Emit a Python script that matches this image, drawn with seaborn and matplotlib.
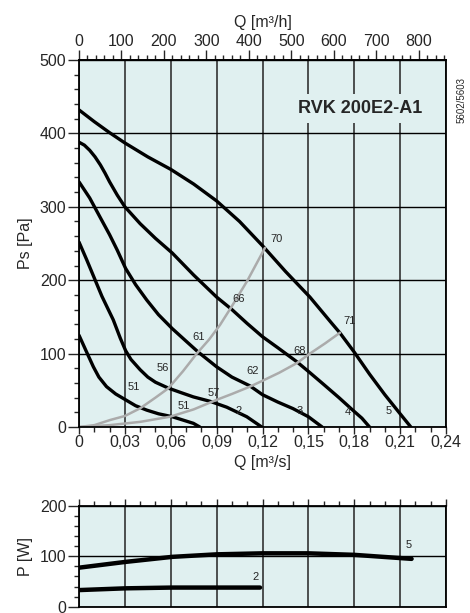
import numpy as np
import pandas as pd
import matplotlib
matplotlib.use('Agg')
import matplotlib.pyplot as plt
import seaborn as sns
from matplotlib.ticker import MultipleLocator, FuncFormatter

# duong ap suat Ps [Pa] theo Q [m3/s], doc tu hinh
q1 = [0, 0.005, 0.0094, 0.013, 0.018, 0.024, 0.0305, 0.037, 0.0443, 0.052, 0.061, 0.0748, 0.079]
p1 = [125, 102, 82, 68, 55, 45, 37, 29, 23, 18, 14, 5, 0]

q2 = [0, 0.005, 0.01, 0.015, 0.0224, 0.027, 0.0305, 0.034, 0.04, 0.045, 0.05, 0.0584, 0.0665, 0.0748, 0.0857, 0.0966, 0.1097, 0.1195]
p2 = [252, 228, 203, 178, 146, 121, 104, 92, 78, 68, 61, 53, 47, 41, 35, 27, 14, 0]

q3 = [0, 0.007, 0.014, 0.02, 0.025, 0.0305, 0.037, 0.0443, 0.052, 0.061, 0.07, 0.078, 0.09, 0.1, 0.1118, 0.12, 0.13, 0.14, 0.15, 0.159]
p3 = [334, 312, 285, 262, 241, 216, 194, 173, 153, 134, 117, 102, 82, 68, 56, 44, 34, 25, 14, 0]

q4 = [0, 0.0035, 0.007, 0.0105, 0.014, 0.017, 0.02, 0.025, 0.03, 0.04, 0.05, 0.061, 0.075, 0.09, 0.1, 0.11, 0.12, 0.13, 0.1424, 0.151, 0.16, 0.17, 0.179, 0.185, 0.19]
p4 = [388, 384, 377, 368, 357, 346, 334, 316, 300, 277, 257, 237, 207, 177, 160, 141, 123, 108, 89, 74, 58, 40, 23, 12, 0]

q5 = [0, 0.01, 0.02, 0.03, 0.045, 0.06, 0.075, 0.09, 0.105, 0.12, 0.135, 0.151, 0.165, 0.1707, 0.18, 0.19, 0.2, 0.21, 0.217]
p5 = [432, 416, 401, 387, 368, 351, 331, 308, 280, 247, 212, 177, 142, 128, 102, 72, 44, 18, 0]

# duong dac tinh he thong (mau xam)
qa = [0, 0.01, 0.0203, 0.03, 0.04, 0.05, 0.0584, 0.068, 0.077, 0.085, 0.0922, 0.0998, 0.11, 0.1216]
pa = [0, 2.5, 9.5, 15, 25.5, 40, 52.7, 76, 100, 119, 139, 164, 199, 244]
qb = [0, 0.02, 0.04, 0.0595, 0.075, 0.09, 0.1, 0.1118, 0.12, 0.131, 0.1424, 0.151, 0.161, 0.1707]
pb = [0, 2.5, 7, 14, 24, 37, 45, 55, 63, 74, 87, 100, 114, 128.5]

# cong suat P [W]
qw5 = [0, 0.0305, 0.061, 0.09, 0.12, 0.15, 0.18, 0.2175]
pw5 = [77.5, 89, 99, 104, 106, 106, 103, 95]
qw2 = [0, 0.0305, 0.061, 0.09, 0.1184]
pw2 = [33, 36.5, 38, 38, 38]

# nhan tren hinh
lbl_a = ['51', '56', '61', '66', '70']
lbl_a_xy = [(0.0359, 54), (0.0548, 81), (0.0783, 123), (0.1047, 174), (0.1291, 256)]
lbl_b = ['51', '57', '62', '68', '71']
lbl_b_xy = [(0.0683, 29), (0.0878, 46), (0.1137, 76), (0.1442, 104), (0.1772, 145)]
lbl_c = ['2', '3', '4', '5']
lbl_c_xy = [(0.1042, 22), (0.1445, 22), (0.1761, 21), (0.2028, 22)]

sns.set_style('ticks')
plt.rcParams['font.family'] = ['Liberation Sans', 'DejaVu Sans']
plt.rcParams['font.size'] = 11.5

bg = '#e0f0f0'
fig = plt.figure(figsize=(4.7, 6.13), dpi=100)
ax = fig.add_axes([79 / 470, 1 - 427 / 613, 367 / 470, 367 / 613])
ax2 = fig.add_axes([79 / 470, 1 - 606.7 / 613, 367 / 470, 100.7 / 613])

for a in [ax, ax2]:
    a.set_facecolor(bg)
    a.set_axisbelow(True)
    a.set_xlim(0, 0.24)
    a.xaxis.set_major_locator(MultipleLocator(0.03))
    a.xaxis.set_minor_locator(MultipleLocator(0.01))
    a.xaxis.grid(True, which='major', color='#333333', lw=1.2)
    a.yaxis.grid(True, which='major', color='black', lw=1)
    for s in a.spines.values():
        s.set_color('black')
        s.set_linewidth(1.3)
    a.tick_params(axis='y', which='major', direction='out', length=8, width=1, labelsize=11.5, pad=1)
    a.tick_params(axis='y', which='minor', direction='out', length=3.5, width=1)

# --- bieu do ap suat ---
for q, p in [(q1, p1), (q2, p2), (q3, p3), (q4, p4), (q5, p5)]:
    sns.lineplot(x=q, y=p, ax=ax, color='black', lw=2.4, sort=False, estimator=None)
for q, p in [(qa, pa), (qb, pb)]:
    sns.lineplot(x=q, y=p, ax=ax, color='#ababab', lw=1.8, sort=False, estimator=None)

ax.set_ylim(0, 500)
ax.yaxis.set_major_locator(MultipleLocator(100))
ax.yaxis.set_minor_locator(MultipleLocator(20))
ax.xaxis.set_major_formatter(FuncFormatter(lambda v, p: '0' if abs(v) < 1e-9 else f'{v:.2f}'.replace('.', ',')))
ax.tick_params(axis='x', which='major', direction='out', length=5, width=1, labelsize=11.5, pad=1)
ax.tick_params(axis='x', which='minor', direction='out', length=3.5, width=1)
ax.set_xlabel('Q [m³/s]', fontsize=11.5)
ax.xaxis.set_label_coords(0.5, -0.075)
ax.set_ylabel('Ps [Pa]', fontsize=11.5)
ax.yaxis.set_label_coords(-0.125, 0.5)

sec = ax.secondary_xaxis('top', functions=(lambda q: q * 3600, lambda h: h / 3600))
sec.set_xticks(range(0, 900, 100))
sec.xaxis.set_minor_locator(MultipleLocator(20))
sec.tick_params(axis='x', which='major', direction='out', length=7, width=1, labelsize=11.5, pad=1)
sec.tick_params(axis='x', which='minor', direction='out', length=3.5, width=1)
sec.spines['top'].set_linewidth(1.3)
sec.set_xlabel('Q [m³/h]', fontsize=11.5, labelpad=5)

for t, (x, y) in zip(lbl_a, lbl_a_xy):
    ax.text(x, y, t, fontsize=8, ha='center', va='center')
for t, (x, y) in zip(lbl_b, lbl_b_xy):
    ax.text(x, y, t, fontsize=8, ha='center', va='center')
for t, (x, y) in zip(lbl_c, lbl_c_xy):
    ax.text(x, y, t, fontsize=8, ha='center', va='center')

ax.text(0.1837, 434, 'RVK 200E2-A1', fontsize=13, fontweight='bold', ha='center', va='center',
        bbox=dict(facecolor=bg, edgecolor='none', pad=4))
fig.text(461.5 / 470, 1 - 100 / 613, '5602/5603', rotation=90, fontsize=7, ha='center', va='center')

# --- bieu do cong suat ---
sns.lineplot(x=qw5, y=pw5, ax=ax2, color='black', lw=3.2, sort=False, estimator=None)
sns.lineplot(x=qw2, y=pw2, ax=ax2, color='black', lw=3.2, sort=False, estimator=None)
ax2.text(0.2155, 122, '5', fontsize=8, ha='center', va='center')
ax2.text(0.1155, 58, '2', fontsize=8, ha='center', va='center')

ax2.set_ylim(0, 200)
ax2.yaxis.set_major_locator(MultipleLocator(100))
ax2.yaxis.set_minor_locator(MultipleLocator(20))
ax2.xaxis.tick_top()
ax2.tick_params(axis='x', which='major', direction='out', length=5, width=1, labeltop=False, labelbottom=False, bottom=False)
ax2.tick_params(axis='x', which='minor', direction='out', length=3.5, width=1, bottom=False)
ax2.set_xlabel('')
ax2.set_ylabel('P [W]', fontsize=11.5)
ax2.yaxis.set_label_coords(-0.125, 0.5)

fig.savefig('out.png', dpi=100)
